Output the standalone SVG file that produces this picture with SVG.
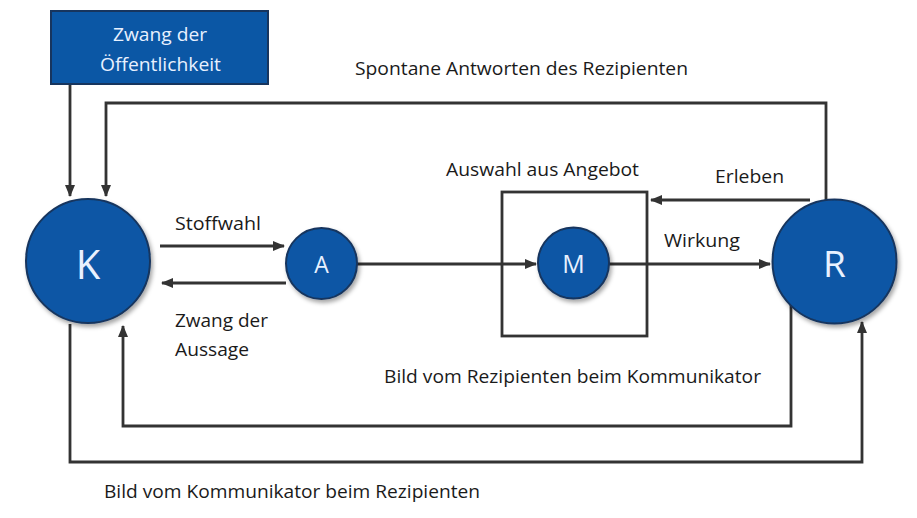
<svg xmlns="http://www.w3.org/2000/svg" width="917" height="518" viewBox="0 0 917 518">
<defs>
<marker id="ah" markerWidth="12" markerHeight="12" viewBox="0 0 12 12" refX="11" refY="6" orient="auto" markerUnits="userSpaceOnUse">
<path d="M0,1 L12,6 L0,11 Z" fill="#333"/>
</marker>
<filter id="sh" x="-20%" y="-20%" width="150%" height="150%">
<feDropShadow dx="2" dy="3" stdDeviation="2" flood-color="#000" flood-opacity="0.35"/>
</filter>
</defs>
<style>
.ln{fill:none;stroke:#333;stroke-width:2.8}
.nd{fill:#0b57a5;stroke:#17355e;stroke-width:2;filter:url(#sh)}
.lt{font-family:"Open Sans","Liberation Sans",sans-serif;fill:#e8f1ff;text-anchor:middle}
.lb{font-family:"Open Sans","Liberation Sans",sans-serif;font-size:17.5px;fill:#1a1a1a}
</style>
<rect width="917" height="518" fill="#fff"/>
<g id="connectors">
<path class="ln" d="M70,84 V196" marker-end="url(#ah)"/>
<path class="ln" d="M826,200 V103 H106 V196" marker-end="url(#ah)"/>
<path class="ln" d="M160,246 H284" marker-end="url(#ah)"/>
<path class="ln" d="M286,283 H162" marker-end="url(#ah)"/>
<path class="ln" d="M357,264 H536" marker-end="url(#ah)"/>
<path class="ln" d="M609,264 H770" marker-end="url(#ah)"/>
<path class="ln" d="M810,200 H651" marker-end="url(#ah)"/>
<path class="ln" d="M791,302 V426 H123 V326" marker-end="url(#ah)"/>
<path class="ln" d="M70,324 V462 H862 V322" marker-end="url(#ah)"/>
</g>
<g id="oeffentlichkeit">
<rect x="51" y="11" width="217" height="73" fill="#0b57a5" stroke="#17355e" stroke-width="2"/>
<text class="lt" x="160" y="41" font-size="18.5" textLength="94" lengthAdjust="spacingAndGlyphs">Zwang der</text>
<text class="lt" x="160.5" y="71" font-size="18.5" textLength="121" lengthAdjust="spacingAndGlyphs">Öffentlichkeit</text>
</g>
<g id="K">
<circle class="nd" cx="88" cy="261" r="62"/>
<text class="lt" x="88" y="268" font-size="40" dominant-baseline="middle">K</text>
</g>
<g id="A">
<circle class="nd" cx="321.5" cy="263.5" r="35.5"/>
<text class="lt" x="321.5" y="267" font-size="23" dominant-baseline="middle">A</text>
</g>
<g id="Mbox">
<rect x="502" y="192" width="145" height="144" fill="none" stroke="#333" stroke-width="2.8"/>
</g>
<g id="M">
<circle class="nd" cx="573.5" cy="263" r="35.5"/>
<text class="lt" x="573.5" y="266" font-size="25" dominant-baseline="middle">M</text>
</g>
<g id="R">
<circle class="nd" cx="834.5" cy="261.5" r="62"/>
<text class="lt" x="834.5" y="267" font-size="37" dominant-baseline="middle">R</text>
</g>
<g id="labels">
<text class="lb" x="355" y="75" textLength="333" lengthAdjust="spacingAndGlyphs">Spontane Antworten des Rezipienten</text>
<text class="lb" x="446" y="176" textLength="193" lengthAdjust="spacingAndGlyphs">Auswahl aus Angebot</text>
<text class="lb" x="715" y="183" textLength="69" lengthAdjust="spacingAndGlyphs">Erleben</text>
<text class="lb" x="175" y="230" textLength="86" lengthAdjust="spacingAndGlyphs">Stoffwahl</text>
<text class="lb" x="664" y="247" textLength="76" lengthAdjust="spacingAndGlyphs">Wirkung</text>
<text class="lb" x="175" y="327" textLength="93" lengthAdjust="spacingAndGlyphs">Zwang der</text>
<text class="lb" x="175" y="356" textLength="74" lengthAdjust="spacingAndGlyphs">Aussage</text>
<text class="lb" x="384" y="383" textLength="377" lengthAdjust="spacingAndGlyphs">Bild vom Rezipienten beim Kommunikator</text>
<text class="lb" x="104" y="498" textLength="376" lengthAdjust="spacingAndGlyphs">Bild vom Kommunikator beim Rezipienten</text>
</g>
</svg>
